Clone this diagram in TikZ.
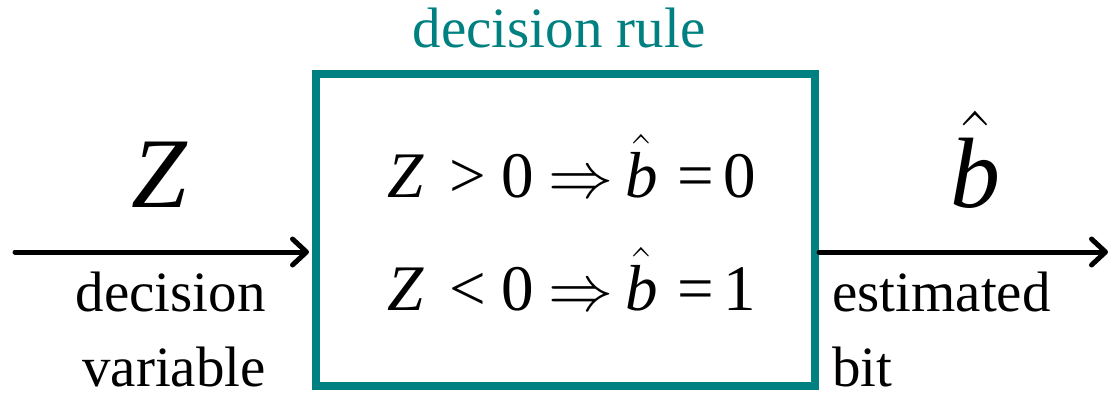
\documentclass[tikz,border=0pt]{standalone}
\usepackage{fix-cm}
\usepackage{fontspec}
\setmainfont{Liberation Serif}
\usetikzlibrary{arrows.meta}
\definecolor{tealrule}{RGB}{0,128,128}
\tikzset{
  flow/.style={line width=5pt, line cap=round, line join=round,
    -{Straight Barb[length=14pt,width=26pt,line width=5pt,round]}},
  rulebox/.style={draw=tealrule, line width=8pt},
  lbl/.style={inner sep=0pt, text depth=0pt, font=\fontsize{57}{75}\selectfont},
  bigsym/.style={inner sep=0pt, anchor=base west, font=\fontsize{100}{110}\selectfont},
  mathrow/.style={inner sep=0pt, anchor=base west, font=\fontsize{65}{78}\selectfont}
}
\begin{document}
\begin{tikzpicture}[x=1pt,y=-1pt]
\useasboundingbox (0,0) rectangle (1113,392);
% box
\draw[rulebox] (316,74) rectangle (815,386);
\node[inner sep=0pt, anchor=base, text=tealrule, font=\fontsize{57}{68}\selectfont] (title) at (559,47) {decision rule};
% in/out coordinates
\coordinate (inL) at (15,252);
\coordinate (inR) at (309,252);
\coordinate (outL) at (819,252);
\coordinate (outR) at (1108,252);
\draw[flow] (inL) -- (inR);
\draw[flow] (outL) -- (outR);
% labels
\node[bigsym] (Z) at (131,207) {\textit{Z}};
\node[bigsym] (bhat) at (950,207) {$\hat{\textit{b}}$};
\node[lbl, align=right, anchor=north east] (dv) at (266,272) {decision\\variable};
\node[lbl, align=left, anchor=north west] (eb) at (832,272) {estimated\\bit};
% rules
\node[mathrow] (r1) at (387,197) {\textit{Z}\hspace{0.4em}>\hspace{0.23em}0\hspace{0.22em}$\Rightarrow$\hspace{0.19em}$\hat{\textit{b}}$\hspace{0.3em}=\hspace{0.15em}0};
\node[mathrow] (r2) at (387,310) {\textit{Z}\hspace{0.4em}<\hspace{0.23em}0\hspace{0.22em}$\Rightarrow$\hspace{0.19em}$\hat{\textit{b}}$\hspace{0.3em}=\hspace{0.15em}1};
\end{tikzpicture}
\end{document}
